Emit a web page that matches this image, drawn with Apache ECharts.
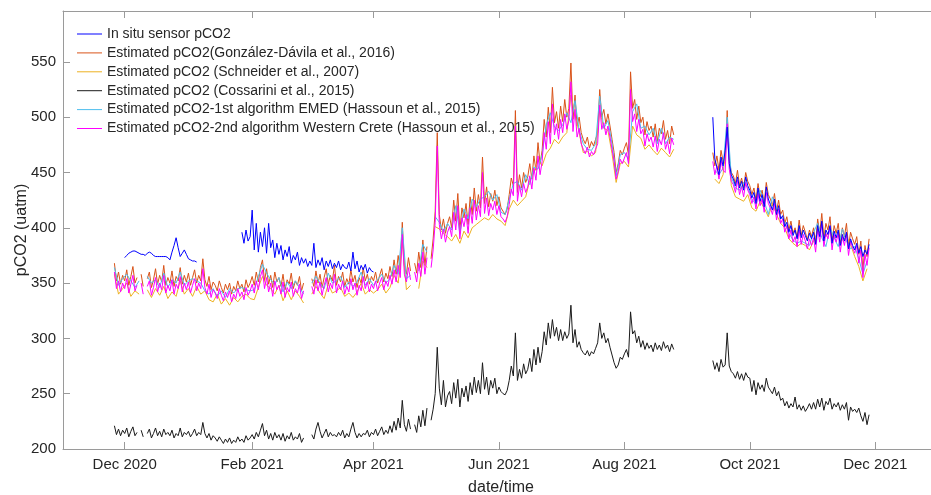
<!DOCTYPE html>
<html><head><meta charset="utf-8">
<script src="https://cdn.jsdelivr.net/npm/echarts@6/dist/echarts.min.js"></script>
<style>html,body{margin:0;padding:0;background:#fff}#c{width:931px;height:495px}</style>
</head><body><div id="c"></div>
<script>
// ---------- tick labels ----------
const tickDates = ['2020-12-01','2021-02-01','2021-04-01','2021-06-01','2021-08-01','2021-10-01','2021-12-01'];
const tickLabels = ['Dec 2020','Feb 2021','Apr 2021','Jun 2021','Aug 2021','Oct 2021','Dec 2021'];
const names = [
  'In situ sensor pCO2',
  'Estimated pCO2(González-Dávila et al., 2016)',
  'Estimated pCO2 (Schneider et al., 2007)',
  'Estimated pCO2 (Cossarini et al., 2015)',
  'Estimated pCO2-1st algorithm EMED (Hassoun et al., 2015)',
  'Estimated pCO2-2nd algorithm Western Crete (Hassoun et al., 2015)'
];
const _ = null;
// ---------- estimated series: daily values from 2020-11-26 ----------
const estStart = '2020-11-26';
const gonzalez = [
368,352,360,349,357,
352,362,348,356,365,350,355,_,358,347,_,354,360,346,353,363,349,357,351,366,348,355,350,361,347,356,352,364,349,357,351,
359,348,355,362,350,357,352,372,353,347,356,344,351,348,343,352,346,341,349,344,350,340,347,343,352,345,349,342,353,346,350,
356,348,360,351,364,371,352,363,349,357,346,360,351,355,347,358,344,353,349,359,345,352,348,356,343,350,_,_,
_,354,347,361,350,358,346,355,363,349,357,352,366,348,356,351,360,347,354,349,362,351,357,346,355,350,364,352,358,349,356,
352,360,350,357,363,351,359,354,365,356,371,358,375,362,405,366,358,373,361,_,368,359,378,364,389,366,383,_,372,390,
415,486,412,398,408,395,404,410,400,425,406,431,398,418,409,422,403,428,412,436,415,430,418,464,422,437,419,431,424,434,420,
428,418,415,412,417,430,445,438,506,432,448,436,450,441,446,458,444,465,452,477,458,470,498,482,509,486,527,495,505,490,
510,496,516,500,508,549,498,520,492,500,486,480,476,482,472,478,474,480,486,525,500,507,494,503,492,480,468,450,458,470,466,
472,477,466,541,508,516,498,510,495,500,484,496,488,492,482,494,478,490,485,497,480,488,476,492,484,_,_,_,_,_,_,
_,_,_,_,_,_,_,_,_,_,_,_,468,456,465,452,470,460,458,506,462,450,447,440,452,438,445,436,450,442,
438,430,436,425,440,428,434,422,441,430,426,420,431,415,425,412,416,404,410,398,406,395,400,391,407,393,402,396,389,398,392,
400,386,408,395,413,391,404,398,410,388,402,395,404,386,400,392,404,383,396,390,385,392,376,388,362,384,374,390
];
const westernCrete = [
360,345,352,342,350,
345,354,341,349,357,343,348,_,350,340,_,347,352,339,346,355,342,350,344,357,341,348,343,353,340,349,345,356,342,350,344,
351,341,348,354,343,350,345,363,346,340,349,337,344,341,336,345,339,334,342,337,343,333,340,336,345,338,342,335,346,339,343,
349,341,352,344,356,362,345,355,342,350,338,352,344,348,340,351,337,346,342,351,338,345,341,349,336,343,_,_,
_,347,340,353,343,351,339,348,355,342,350,345,358,341,349,344,352,340,347,342,354,344,350,339,348,343,356,345,351,342,349,
345,352,343,350,355,344,352,347,357,349,362,351,366,355,394,358,351,364,353,_,360,351,368,356,378,358,373,_,364,380,
405,474,403,390,399,387,396,401,392,414,398,420,390,409,401,412,395,418,404,425,407,420,410,450,413,427,411,422,416,424,412,
420,410,408,405,410,421,435,429,492,424,438,428,440,432,437,447,435,454,443,465,448,460,486,471,496,476,512,484,494,480,
498,486,503,489,497,532,487,507,482,490,476,471,467,473,464,469,466,471,476,511,489,495,484,492,482,471,460,444,451,462,458,
463,468,458,525,496,503,487,498,485,489,474,485,478,482,473,483,469,480,475,486,471,478,467,481,475,_,_,_,_,_,_,
_,_,_,_,_,_,_,_,_,_,_,_,460,448,456,444,461,452,450,494,453,442,439,432,443,430,437,428,441,434,
430,422,428,417,431,420,426,414,432,422,418,412,422,407,417,404,408,396,402,390,398,387,392,383,398,385,394,388,381,390,384,
391,378,399,387,404,383,395,390,401,380,394,387,395,378,392,384,395,375,388,382,377,384,368,380,355,376,366,382
];
const cossarini = [
221,213,218,212,217,
214,219,211,216,220,212,215,_,217,211,_,214,218,210,214,219,212,216,211,218,213,215,212,217,210,214,212,219,211,215,213,
216,211,214,218,212,215,213,224,214,210,214,208,212,210,207,211,208,205,209,206,210,205,208,206,211,207,209,206,212,208,210,
213,209,215,211,217,223,212,217,209,214,208,215,210,213,208,214,207,212,209,215,208,211,209,214,206,210,_,_,
_,213,209,218,224,216,210,214,218,211,215,212,213,211,215,212,217,210,214,211,218,224,215,210,214,211,214,213,217,211,215,
213,218,212,216,220,213,217,214,221,215,225,217,228,219,244,222,216,227,218,_,222,215,230,220,235,221,237,_,226,236,
250,292,255,240,262,238,248,252,241,260,246,263,238,255,247,257,243,260,249,265,251,262,250,278,254,265,249,262,255,264,250,
256,252,250,249,253,262,275,266,305,262,272,264,277,268,272,282,270,290,276,292,278,288,306,294,314,300,317,302,310,298,
308,298,306,300,304,330,296,308,292,297,290,287,285,289,284,288,286,291,296,314,300,305,296,300,292,285,278,273,276,283,281,
286,290,283,324,304,307,296,302,292,298,290,296,291,294,288,296,290,294,289,297,291,294,288,295,290,_,_,_,_,_,_,
_,_,_,_,_,_,_,_,_,_,_,_,280,272,278,270,281,274,276,305,275,270,268,264,270,263,268,262,269,265,
264,252,262,249,260,254,258,252,264,256,253,250,256,248,252,244,246,239,243,237,241,238,247,236,240,235,239,234,237,241,236,
242,236,245,238,246,235,243,240,246,236,241,238,242,235,240,236,242,226,238,234,236,233,237,230,225,233,222,231
];
// ---------- estimated series: every 2 days from 2020-11-26 ----------
const schneider = [
358,340,345,
350,338,343,340,_,344,337,345,339,347,336,342,338,352,340,
345,338,347,340,343,335,333,340,331,336,330,337,333,338,340,336,
335,346,356,348,345,340,348,334,343,335,343,338,332,_,
340,347,341,336,349,341,343,346,338,341,337,342,350,340,344,
341,344,349,341,346,357,350,387,344,348,_,345,370,364,_,
401,399,395,392,388,394,386,397,391,400,403,406,409,407,412,408,
406,402,417,425,420,424,428,443,450,461,456,467,472,480,476,
482,486,520,502,486,468,469,465,468,506,490,488,467,441,458,
460,455,492,484,481,471,475,470,466,472,468,464,471,_,_,_,
_,_,_,_,_,_,444,440,448,488,438,428,426,424,430,
418,415,424,418,410,422,412,404,400,390,386,383,386,384,380,
388,396,401,392,398,391,392,389,392,385,374,365,352,363
];
const emed = [
364,348,354,
358,352,346,352,_,356,350,353,346,359,346,353,350,360,348,
352,354,352,350,343,340,345,338,343,337,345,341,345,346,344,343,
344,356,367,359,353,349,355,342,351,345,352,346,340,_,
350,356,350,345,359,350,352,356,346,351,347,351,360,348,354,
348,353,358,350,354,366,358,400,354,357,_,361,385,378,_,
410,405,396,404,398,420,395,417,408,426,419,426,428,433,425,430,
414,412,426,440,442,434,448,439,455,453,466,493,504,491,488,
493,504,495,515,488,476,471,470,476,519,490,497,476,447,466,
468,462,505,512,490,492,484,490,476,490,476,482,480,_,_,_,
_,_,_,_,_,_,452,448,454,500,446,436,434,441,436,
426,421,434,424,412,428,418,410,405,395,389,386,388,386,384,
396,404,391,383,400,391,383,399,388,381,383,372,358,370
];
// ---------- in situ sensor: daily, three segments ----------
const sensorStart1 = '2020-12-01';
const sensor1 = [
373,375,377,378,379,379,378,377,376,376,375,377,378,377,375,374,374,374,374,374,374,373,371,378,384,391,382,374,377,380,376,
372,371,370,370,369
];
const sensorStart2 = '2021-01-27';
const sensor2 = [
396,386,398,388,392,
416,380,404,378,396,383,400,377,404,382,389,373,386,376,384,371,380,374,383,368,375,371,378,366,373,368,372,365,
370,366,386,364,371,366,373,362,370,365,371,363,368,364,370,362,367,364,363,369,361,378,363,370,360,366,362,367,359,364,361,
360
];
const sensorStart3 = '2021-09-13';
const sensor3 = [
500,462,455,448,464,456,470,491,458,448,444,438,446,436,442,434,446,438,
434,427,432,422,436,424,430,419,437,426,421,416,426,412,420,408,411,401,405,396,402,393,398,390,402,391,398,393,388,395,390,
396,385,402,392,406,388,398,394,402,386,397,391,398,384,394,388,396,381,390,384,380,386,377,383,374,380,376,385
];

// ---------- build ----------
const DAY = 86400000;
function pts(start, stepDays, vals) {
  const t0 = Date.parse(start);
  return vals.map((v, i) => [t0 + i * stepDays * DAY, v]);
}
const tickTimes = tickDates.map(d => Date.parse(d));
const sensorData = pts(sensorStart1, 1, sensor1)
  .concat([[Date.parse('2021-01-15'), null]])
  .concat(pts(sensorStart2, 1, sensor2))
  .concat([[Date.parse('2021-06-01'), null]])
  .concat(pts(sensorStart3, 1, sensor3));

const FONT = "'Liberation Sans', Arial, Helvetica, sans-serif";
const TXT = '#262626';
const AX = '#9a9a9a';
const LEG_ICON = 'path://M0,0 L30,0 L30,1.2 L0,1.2 Z';
function line(name, color, data, z) {
  return {
    name, type: 'line', data, showSymbol: false, symbol: 'none',
    lineStyle: { color, width: 1 }, itemStyle: { color },
    emphasis: { disabled: true }, z: z, animation: false
  };
}
function tickLabel(v) {
  let best = 0;
  tickTimes.forEach((t, i) => { if (Math.abs(t - v) < Math.abs(tickTimes[best] - v)) best = i; });
  return Math.abs(tickTimes[best] - v) < DAY ? tickLabels[best] : '';
}
const xMin = Date.parse('2020-11-01'), xMax = Date.parse('2022-01-01');
const chart = echarts.init(document.getElementById('c'), null, { renderer: 'canvas' });
chart.setOption({
  animation: false,
  backgroundColor: '#fff',
  textStyle: { fontFamily: FONT },
  grid: { left: 63, top: 11, width: 876, height: 438, containLabel: false, outerBoundsMode: 'none' },
  legend: {
    data: names.map(n => ({ name: n, icon: LEG_ICON })),
    orient: 'vertical', left: 77, top: 27, padding: 0,
    itemWidth: 25, itemHeight: 14, itemGap: 4.9, symbolKeepAspect: true,
    textStyle: { fontSize: 14, color: TXT, fontFamily: FONT },
    selectedMode: false
  },
  xAxis: [{
    type: 'value', min: xMin, max: xMax, scale: true,
    axisLine: { show: true, lineStyle: { color: AX, width: 1 } },
    axisTick: { show: true, inside: true, length: 7, customValues: tickTimes, lineStyle: { color: AX } },
    axisLabel: { customValues: tickTimes, fontSize: 15, color: TXT, margin: 8, fontFamily: FONT, formatter: tickLabel },
    splitLine: { show: false },
    name: 'date/time', nameLocation: 'middle', nameGap: 31, nameMoveOverlap: false,
    nameTextStyle: { fontSize: 16, color: TXT, fontFamily: FONT }
  }, {
    type: 'value', min: xMin, max: xMax, scale: true, position: 'top',
    axisLine: { show: true, lineStyle: { color: AX, width: 1 } },
    axisTick: { show: true, inside: true, length: 7, customValues: tickTimes, lineStyle: { color: AX } },
    axisLabel: { show: false }, splitLine: { show: false }
  }],
  yAxis: {
    type: 'value', min: 200, max: 596, interval: 50,
    axisLine: { show: true, lineStyle: { color: AX, width: 1 } },
    axisTick: { show: true, inside: true, length: 7, lineStyle: { color: AX } },
    axisLabel: { fontSize: 15, color: TXT, margin: 7, showMaxLabel: false, fontFamily: FONT },
    splitLine: { show: false },
    name: 'pCO2 (uatm)', nameLocation: 'middle', nameGap: 33, nameRotate: 90, nameMoveOverlap: false,
    nameTextStyle: { fontSize: 16, color: TXT, fontFamily: FONT }
  },
  series: [
    line(names[1], '#D95319', pts(estStart, 1, gonzalez), 2),
    line(names[2], '#EDB120', pts(estStart, 2, schneider), 2),
    line(names[3], '#1a1a1a', pts(estStart, 1, cossarini), 2),
    line(names[4], '#4DBEEE', pts(estStart, 2, emed), 2),
    line(names[5], '#FF00FF', pts(estStart, 1, westernCrete), 2),
    line(names[0], '#0000FF', sensorData, 3)
  ]
});
</script>
</body></html>
